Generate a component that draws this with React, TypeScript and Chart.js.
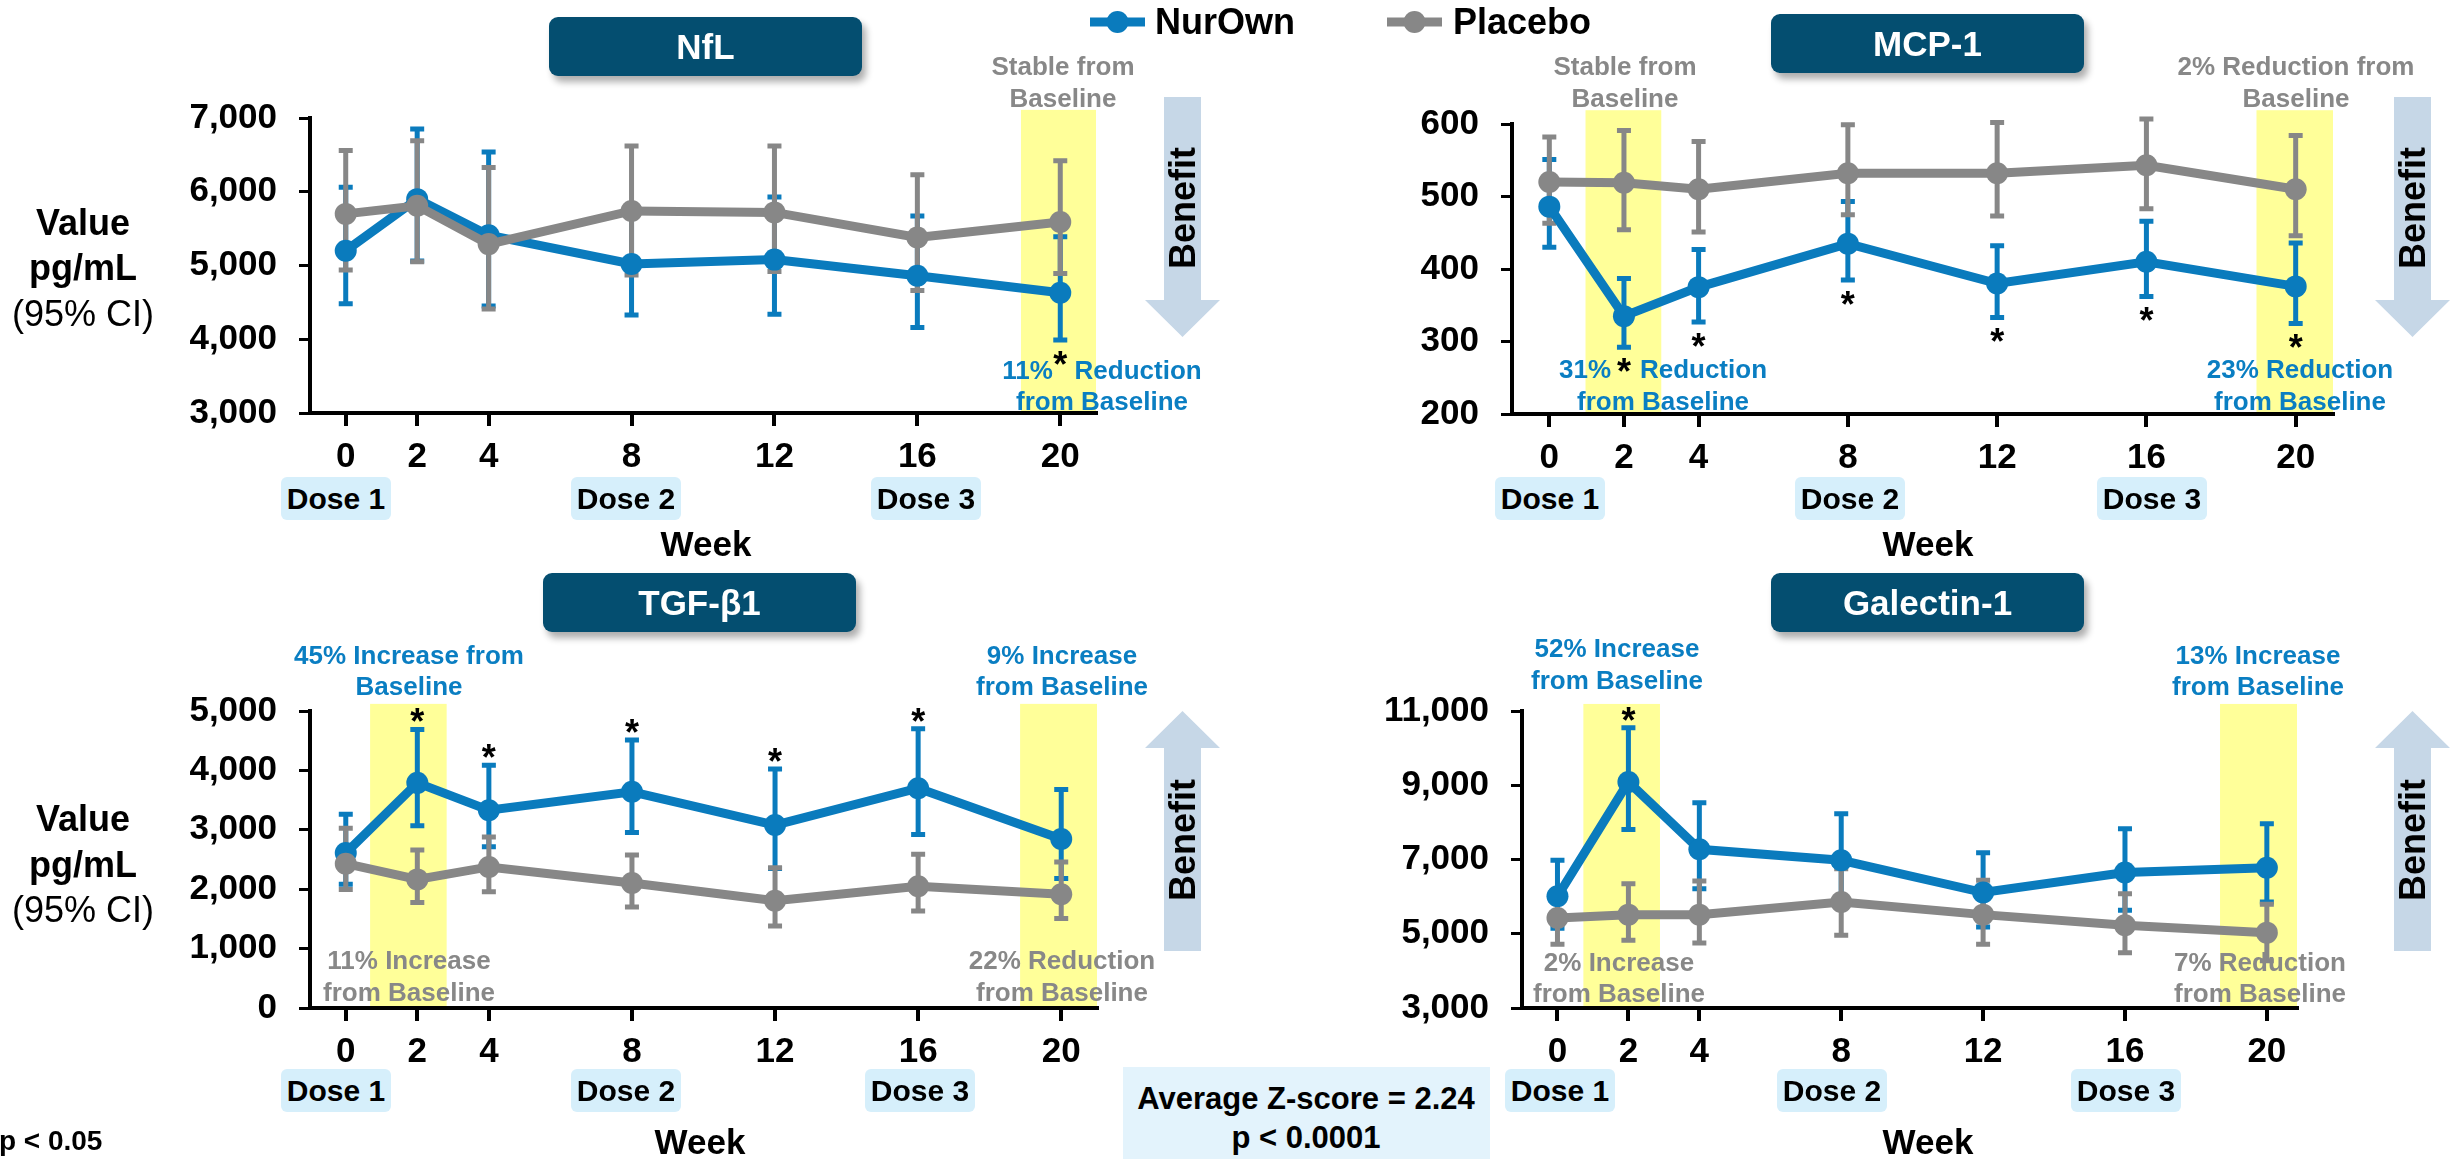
import React, { useEffect, useRef } from 'react';
import { Chart, registerables } from 'chart.js';

Chart.register(...registerables);

const FONT = '"Liberation Sans", Arial, Helvetica, sans-serif';
const BLUE = '#0a7bbd';
const GRAY = '#878787';
const BLUE_TEXT = '#0a7ec2';
const GRAY_TEXT = '#888888';
const YELLOW = '#ffff99';
const TITLE_BG = '#044e70';
const DOSE_BG = '#d6effb';
const ARROW = '#c6d7e7';

// Study visits (weeks)
const weeks = [0, 2, 4, 8, 12, 16, 20];

// NfL (pg/mL), mean with 95% CI
const nflNurOwn = [5200, 5900, 5410, 5020, 5080, 4860, 4630];
const nflNurOwnLower = [4480, 5060, 4450, 4330, 4340, 4160, 3990];
const nflNurOwnUpper = [6060, 6850, 6540, 5700, 5930, 5670, 5390];
const nflPlacebo = [5700, 5810, 5290, 5740, 5720, 5380, 5590];
const nflPlaceboLower = [4940, 5050, 4410, 4870, 4920, 4660, 4890];
const nflPlaceboUpper = [6560, 6690, 6330, 6620, 6620, 6230, 6420];
const nflSignificant = [20];
const nflHighlight = [[18.9, 21]];

// MCP-1 (pg/mL)
const mcpNurOwn = [486, 335, 375, 435, 380, 410, 376];
const mcpNurOwnLower = [430, 292, 327, 385, 333, 362, 325];
const mcpNurOwnUpper = [551, 387, 427, 493, 432, 466, 436];
const mcpPlacebo = [520, 519, 510, 532, 532, 543, 510];
const mcpPlaceboLower = [463, 454, 451, 475, 473, 483, 446];
const mcpPlaceboUpper = [582, 591, 576, 599, 602, 607, 584];
const mcpSignificant = [2, 4, 8, 12, 16, 20];
const mcpHighlight = [[0.97, 3.0], [18.95, 21]];

// TGF-β1 (pg/mL)
const tgfNurOwn = [2610, 3790, 3330, 3640, 3080, 3700, 2845];
const tgfNurOwnLower = [2085, 3070, 2715, 2955, 2350, 2920, 2180];
const tgfNurOwnUpper = [3260, 4690, 4085, 4510, 4025, 4700, 3680];
const tgfPlacebo = [2430, 2165, 2375, 2105, 1805, 2050, 1915];
const tgfPlaceboLower = [1995, 1775, 1955, 1700, 1380, 1635, 1505];
const tgfPlaceboUpper = [3025, 2660, 2880, 2575, 2360, 2590, 2460];
const tgfSignificant = [2, 4, 8, 12, 16];
const tgfHighlight = [[0.68, 2.82], [18.85, 21]];

// Galectin-1 (pg/mL)
const galNurOwn = [6010, 9090, 7275, 6980, 6110, 6650, 6780];
const galNurOwnLower = [5150, 7810, 6215, 5720, 5180, 5630, 5855];
const galNurOwnUpper = [6980, 10550, 8530, 8235, 7185, 7830, 7965];
const galPlacebo = [5425, 5515, 5515, 5855, 5515, 5230, 5030];
const galPlaceboLower = [4715, 4825, 4750, 4960, 4715, 4490, 4270];
const galPlaceboUpper = [6130, 6350, 6420, 6750, 6440, 6080, 5795];
const galSignificant = [2];
const galHighlight = [[0.73, 2.89], [18.68, 20.85]];

type Series = { mean: number[]; lower: number[]; upper: number[]; color: string };
type Panel = {
  name: string;
  area: { left: number; top: number; right: number; bottom: number };
  xMax: number;
  yMin: number;
  yMax: number;
  yStep: number;
  bandTop: number;
  bands: number[][];
  nurOwn: Series;
  placebo: Series;
  significant: number[];
  starsBelow: boolean;
};

const W = 2455;
const H = 1159;
const Y_AXIS_W = 200;
const X_AXIS_H = 80;

const panels: Panel[] = [
  {
    name: 'nfl',
    area: { left: 310, top: 118, right: 1096, bottom: 413 },
    xMax: 21, yMin: 3000, yMax: 7000, yStep: 1000, bandTop: 7110,
    bands: nflHighlight,
    nurOwn: { mean: nflNurOwn, lower: nflNurOwnLower, upper: nflNurOwnUpper, color: BLUE },
    placebo: { mean: nflPlacebo, lower: nflPlaceboLower, upper: nflPlaceboUpper, color: GRAY },
    significant: nflSignificant, starsBelow: true,
  },
  {
    name: 'mcp',
    area: { left: 1512, top: 124, right: 2333, bottom: 414 },
    xMax: 21, yMin: 200, yMax: 600, yStep: 100, bandTop: 619,
    bands: mcpHighlight,
    nurOwn: { mean: mcpNurOwn, lower: mcpNurOwnLower, upper: mcpNurOwnUpper, color: BLUE },
    placebo: { mean: mcpPlacebo, lower: mcpPlaceboLower, upper: mcpPlaceboUpper, color: GRAY },
    significant: mcpSignificant, starsBelow: true,
  },
  {
    name: 'tgf',
    area: { left: 310, top: 711, right: 1097, bottom: 1008 },
    xMax: 21, yMin: 0, yMax: 5000, yStep: 1000, bandTop: 5120,
    bands: tgfHighlight,
    nurOwn: { mean: tgfNurOwn, lower: tgfNurOwnLower, upper: tgfNurOwnUpper, color: BLUE },
    placebo: { mean: tgfPlacebo, lower: tgfPlaceboLower, upper: tgfPlaceboUpper, color: GRAY },
    significant: tgfSignificant, starsBelow: false,
  },
  {
    name: 'gal',
    area: { left: 1522, top: 711, right: 2297, bottom: 1008 },
    xMax: 20.85, yMin: 3000, yMax: 11000, yStep: 2000, bandTop: 11190,
    bands: galHighlight,
    nurOwn: { mean: galNurOwn, lower: galNurOwnLower, upper: galNurOwnUpper, color: BLUE },
    placebo: { mean: galPlacebo, lower: galPlaceboLower, upper: galPlaceboUpper, color: GRAY },
    significant: galSignificant, starsBelow: false,
  },
];

function decorations(p: Panel) {
  const drawBars = (chart: any, s: Series) => {
    const { ctx, scales } = chart;
    const xs = scales.x;
    const ys = scales.y;
    ctx.save();
    ctx.strokeStyle = s.color;
    ctx.lineWidth = 5;
    ctx.lineCap = 'butt';
    weeks.forEach((w, i) => {
      const x = xs.getPixelForValue(w);
      const yl = ys.getPixelForValue(s.lower[i]);
      const yu = ys.getPixelForValue(s.upper[i]);
      ctx.beginPath();
      ctx.moveTo(x, yl);
      ctx.lineTo(x, yu);
      ctx.moveTo(x - 7, yl);
      ctx.lineTo(x + 7, yl);
      ctx.moveTo(x - 7, yu);
      ctx.lineTo(x + 7, yu);
      ctx.stroke();
    });
    ctx.restore();
  };
  return {
    id: 'panelDecor' + p.name,
    beforeDraw(chart: any) {
      const { ctx, chartArea, scales } = chart;
      ctx.save();
      ctx.fillStyle = YELLOW;
      const top = scales.y.getPixelForValue(p.bandTop);
      p.bands.forEach(([a, b]) => {
        const x1 = scales.x.getPixelForValue(a);
        const x2 = scales.x.getPixelForValue(b);
        ctx.fillRect(x1, top, x2 - x1, chartArea.bottom - top);
      });
      ctx.restore();
    },
    beforeDatasetsDraw(chart: any) {
      drawBars(chart, p.nurOwn);
      drawBars(chart, p.placebo);
    },
    afterDatasetsDraw(chart: any) {
      const { ctx, scales } = chart;
      const size = 36;
      ctx.save();
      ctx.fillStyle = '#000';
      ctx.font = `bold ${size}px ${FONT}`;
      ctx.textAlign = 'center';
      ctx.textBaseline = 'alphabetic';
      p.significant.forEach((w) => {
        const i = weeks.indexOf(w);
        const x = scales.x.getPixelForValue(w);
        const cy = p.starsBelow
          ? scales.y.getPixelForValue(p.nurOwn.lower[i]) + 16
          : scales.y.getPixelForValue(p.nurOwn.upper[i]) - 16;
        ctx.fillText('*', x, cy + 0.58 * size);
      });
      ctx.restore();
    },
  };
}

function PanelChart({ panel }: { panel: Panel }) {
  const ref = useRef<HTMLCanvasElement>(null);
  useEffect(() => {
    const canvas = ref.current;
    if (!canvas) return;
    const pts = (arr: number[]) => weeks.map((w, i) => ({ x: w, y: arr[i] }));
    const tickFont = { family: FONT, size: 35, weight: 'bold' as const };
    const line = (label: string, s: Series, order: number) => ({
      label,
      data: pts(s.mean),
      borderColor: s.color,
      backgroundColor: s.color,
      pointBackgroundColor: s.color,
      pointBorderColor: s.color,
      borderWidth: 9,
      pointRadius: 11,
      pointBorderWidth: 0,
      tension: 0,
      clip: false,
      order,
    });
    const { area } = panel;
    const chart = new Chart(canvas, {
      type: 'line',
      data: {
        datasets: [line('NurOwn', panel.nurOwn, 2), line('Placebo', panel.placebo, 1)],
      },
      options: {
        responsive: false,
        animation: false,
        devicePixelRatio: 1,
        events: [],
        layout: {
          padding: {
            left: area.left - Y_AXIS_W,
            right: W - area.right,
            top: area.top,
            bottom: H - area.bottom - X_AXIS_H,
          },
        },
        plugins: { legend: { display: false }, tooltip: { enabled: false } },
        scales: {
          x: {
            type: 'linear',
            min: -1,
            max: panel.xMax,
            afterBuildTicks: (s: any) => {
              s.ticks = weeks.map((v) => ({ value: v }));
            },
            afterFit: (s: any) => {
              s.height = X_AXIS_H;
            },
            grid: { display: true, drawOnChartArea: false, drawTicks: true, tickLength: 13, color: '#000', lineWidth: 4 },
            border: { display: true, color: '#000', width: 4 },
            ticks: {
              color: '#000', font: tickFont, padding: 10, maxRotation: 0, autoSkip: false,
              callback: (v: any) => String(v),
            },
          },
          y: {
            type: 'linear',
            min: panel.yMin,
            max: panel.yMax,
            afterFit: (s: any) => {
              s.width = Y_AXIS_W;
            },
            grid: { display: true, drawOnChartArea: false, drawTicks: true, tickLength: 11, color: '#000', lineWidth: 3 },
            border: { display: true, color: '#000', width: 4 },
            ticks: {
              stepSize: panel.yStep, color: '#000', font: tickFont, padding: 22,
              callback: (v: any) => Number(v).toLocaleString('en-US'),
            },
          },
        },
      },
      plugins: [decorations(panel)],
    } as any);
    return () => chart.destroy();
  }, [panel]);
  return (
    <canvas
      ref={ref}
      width={W}
      height={H}
      style={{ position: 'absolute', left: 0, top: 0, width: W, height: H }}
    />
  );
}

function Title({ text, left, top }: { text: string; left: number; top: number }) {
  return (
    <div
      style={{
        position: 'absolute', left, top, width: 313, height: 59,
        background: TITLE_BG, borderRadius: 9, boxShadow: '4px 6px 7px rgba(0,0,0,0.32)',
        color: '#fff', font: `bold 35px ${FONT}`,
        display: 'flex', alignItems: 'center', justifyContent: 'center',
      }}
    >
      {text}
    </div>
  );
}

function Dose({ text, left, top }: { text: string; left: number; top: number }) {
  return (
    <div
      style={{
        position: 'absolute', left, top, width: 110, height: 43,
        background: DOSE_BG, borderRadius: 6, color: '#000', font: `bold 30px ${FONT}`,
        display: 'flex', alignItems: 'center', justifyContent: 'center',
      }}
    >
      {text}
    </div>
  );
}

function Centered({
  x, y, text, color = '#000', size = 26, weight = 'bold', lh = 32,
}: { x: number; y: number; text: string; color?: string; size?: number; weight?: string; lh?: number }) {
  return (
    <div
      style={{
        position: 'absolute', left: x, top: y, transform: 'translate(-50%, -50%)',
        textAlign: 'center', whiteSpace: 'pre', color,
        font: `${weight} ${size}px/${lh}px ${FONT}`,
      }}
    >
      {text}
    </div>
  );
}

function AxisTitle({ x, y }: { x: number; y: number }) {
  return (
    <div
      style={{
        position: 'absolute', left: x, top: y, transform: 'translate(-50%, -50%)',
        textAlign: 'center', whiteSpace: 'pre', color: '#000', font: `36px/45.5px ${FONT}`,
      }}
    >
      <div style={{ fontWeight: 'bold' }}>Value</div>
      <div style={{ fontWeight: 'bold' }}>pg/mL</div>
      <div>(95% CI)</div>
    </div>
  );
}

function Benefit({ x, y }: { x: number; y: number }) {
  return (
    <div
      style={{
        position: 'absolute', left: x, top: y, transform: 'translate(-50%, -50%) rotate(-90deg)',
        color: '#000', font: `bold 36px/40px ${FONT}`, whiteSpace: 'pre',
      }}
    >
      Benefit
    </div>
  );
}

function downArrow(cx: number) {
  const pts = [
    [cx - 18.5, 97], [cx + 18.5, 97], [cx + 18.5, 300], [cx + 37.5, 300],
    [cx, 337], [cx - 37.5, 300], [cx - 18.5, 300],
  ];
  return pts.map((p) => p.join(',')).join(' ');
}

function upArrow(cx: number) {
  const pts = [
    [cx, 711], [cx + 37.5, 748], [cx + 18.5, 748], [cx + 18.5, 951],
    [cx - 18.5, 951], [cx - 18.5, 748], [cx - 37.5, 748],
  ];
  return pts.map((p) => p.join(',')).join(' ');
}

export default function App() {
  return (
    <div
      style={{
        position: 'absolute', left: 0, top: 0, width: W, height: H, overflow: 'hidden',
        background: '#fff', fontFamily: FONT,
      }}
    >
      {panels.map((p) => (
        <PanelChart key={p.name} panel={p} />
      ))}

      <svg width={W} height={H} style={{ position: 'absolute', left: 0, top: 0 }}>
        <polygon points={downArrow(1182.5)} fill={ARROW} />
        <polygon points={downArrow(2412.5)} fill={ARROW} />
        <polygon points={upArrow(1182.5)} fill={ARROW} />
        <polygon points={upArrow(2412.5)} fill={ARROW} />
        <line x1={1090} y1={22} x2={1145} y2={22} stroke={BLUE} strokeWidth={9} />
        <circle cx={1117.5} cy={22} r={11} fill={BLUE} />
        <line x1={1387} y1={22} x2={1442} y2={22} stroke={GRAY} strokeWidth={9} />
        <circle cx={1414.5} cy={22} r={11} fill={GRAY} />
      </svg>

      {/* Legend */}
      <div style={{ position: 'absolute', left: 1155, top: 2, font: `bold 36px/40px ${FONT}`, color: '#000' }}>NurOwn</div>
      <div style={{ position: 'absolute', left: 1453, top: 2, font: `bold 36px/40px ${FONT}`, color: '#000' }}>Placebo</div>

      {/* Panel titles */}
      <Title text="NfL" left={549} top={17} />
      <Title text="MCP-1" left={1771} top={14} />
      <Title text="TGF-β1" left={543} top={573} />
      <Title text="Galectin-1" left={1771} top={573} />

      {/* Y axis titles */}
      <AxisTitle x={83} y={267.5} />
      <AxisTitle x={83} y={864} />

      {/* Dose markers */}
      <Dose text="Dose 1" left={281} top={477} />
      <Dose text="Dose 2" left={571} top={477} />
      <Dose text="Dose 3" left={871} top={477} />
      <Dose text="Dose 1" left={1495} top={477} />
      <Dose text="Dose 2" left={1795} top={477} />
      <Dose text="Dose 3" left={2097} top={477} />
      <Dose text="Dose 1" left={281} top={1069} />
      <Dose text="Dose 2" left={571} top={1069} />
      <Dose text="Dose 3" left={865} top={1069} />
      <Dose text="Dose 1" left={1505} top={1069} />
      <Dose text="Dose 2" left={1777} top={1069} />
      <Dose text="Dose 3" left={2071} top={1069} />

      {/* X axis titles */}
      <Centered x={706} y={544} text="Week" size={35} lh={40} />
      <Centered x={1928} y={544} text="Week" size={35} lh={40} />
      <Centered x={700} y={1142} text="Week" size={35} lh={40} />
      <Centered x={1928} y={1142} text="Week" size={35} lh={40} />

      {/* Change-from-baseline notes */}
      <Centered x={1063} y={82} text={'Stable from\nBaseline'} color={GRAY_TEXT} />
      <Centered x={1102} y={385.5} text={'11%   Reduction\nfrom Baseline'} color={BLUE_TEXT} lh={31} />
      <Centered x={1625} y={82} text={'Stable from\nBaseline'} color={GRAY_TEXT} />
      <Centered x={2296} y={82} text={'2% Reduction from\nBaseline'} color={GRAY_TEXT} />
      <Centered x={1663} y={385} text={'31%    Reduction\nfrom Baseline'} color={BLUE_TEXT} />
      <Centered x={2300} y={385} text={'23% Reduction\nfrom Baseline'} color={BLUE_TEXT} />
      <Centered x={409} y={670.5} text={'45% Increase from\nBaseline'} color={BLUE_TEXT} lh={31} />
      <Centered x={1062} y={670.5} text={'9% Increase\nfrom Baseline'} color={BLUE_TEXT} lh={31} />
      <Centered x={409} y={976} text={'11% Increase\nfrom Baseline'} color={GRAY_TEXT} />
      <Centered x={1062} y={976} text={'22% Reduction\nfrom Baseline'} color={GRAY_TEXT} />
      <Centered x={1617} y={664} text={'52% Increase\nfrom Baseline'} color={BLUE_TEXT} />
      <Centered x={2258} y={670.5} text={'13% Increase\nfrom Baseline'} color={BLUE_TEXT} lh={31} />
      <Centered x={1619} y={977.5} text={'2% Increase\nfrom Baseline'} color={GRAY_TEXT} lh={31} />
      <Centered x={2260} y={977.5} text={'7% Reduction\nfrom Baseline'} color={GRAY_TEXT} lh={31} />

      {/* Benefit direction */}
      <Benefit x={1183} y={208} />
      <Benefit x={2413} y={208} />
      <Benefit x={1183} y={840} />
      <Benefit x={2413} y={840} />

      {/* Composite score */}
      <div style={{ position: 'absolute', left: 1123, top: 1067, width: 367, height: 92, background: '#e3f3fc' }} />
      <Centered x={1306} y={1117.5} text={'Average Z-score = 2.24\np < 0.0001'} size={31} lh={39} />

      <div style={{ position: 'absolute', left: -12, top: 1141, transform: 'translateY(-50%)', font: `bold 28px/32px ${FONT}`, whiteSpace: 'pre', color: '#000' }}>
        *p &lt; 0.05
      </div>
    </div>
  );
}
